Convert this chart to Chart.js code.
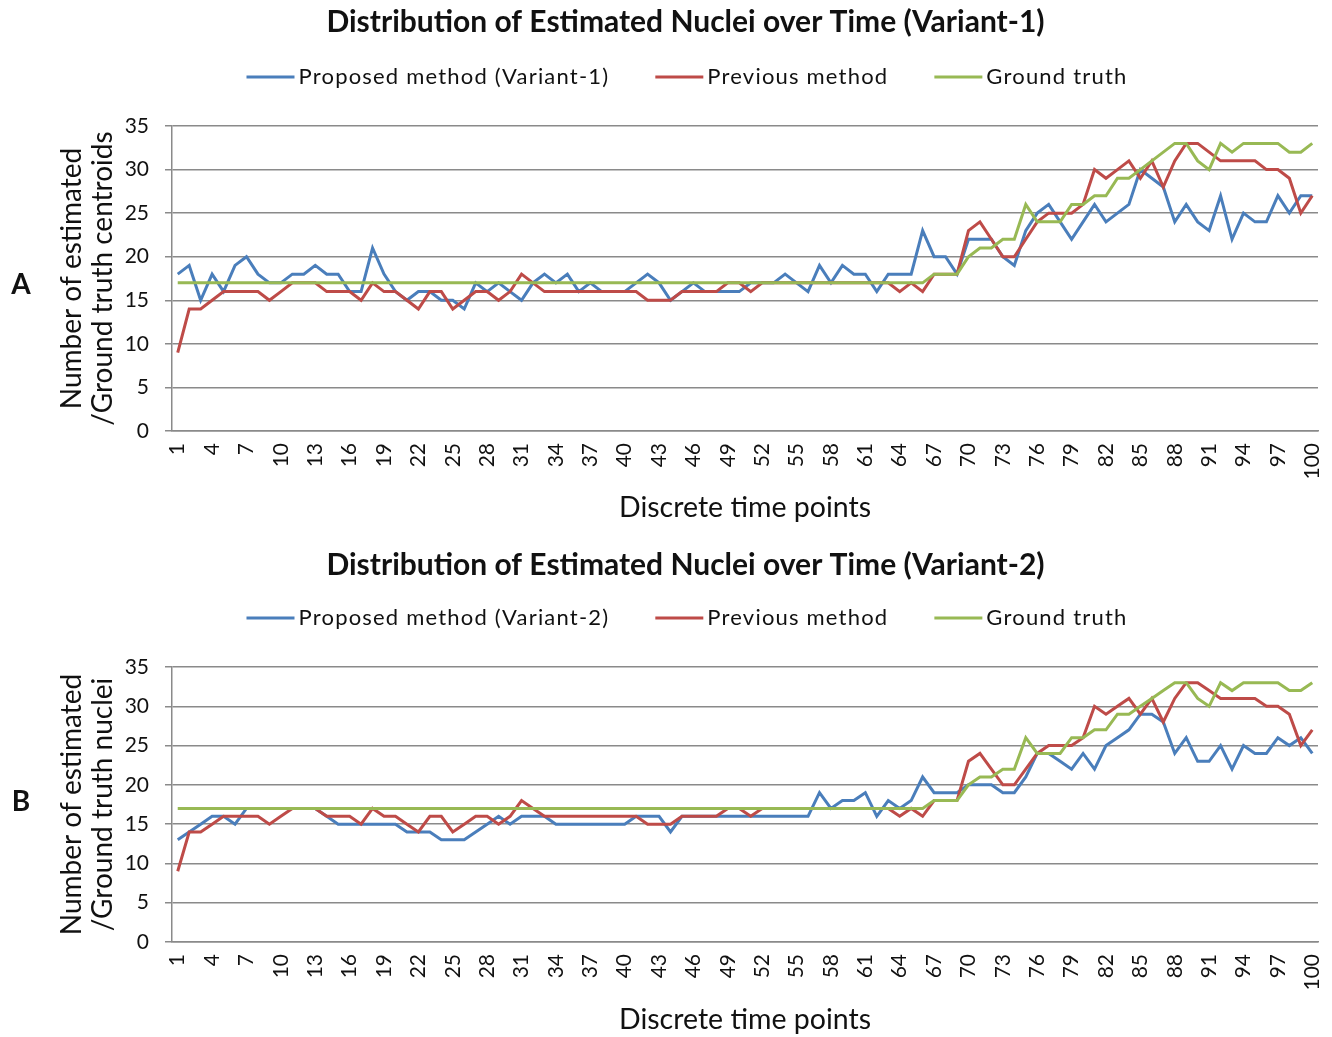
<!DOCTYPE html>
<html><head><meta charset="utf-8">
<script src="https://cdn.jsdelivr.net/npm/chart.js@4"></script>
<style>
html,body{margin:0;padding:0;background:#fff;}
#wrap{position:relative;width:1332px;height:1037px;background:#fff;}
canvas{position:absolute;left:0;display:block;}
</style></head><body>
<div id="wrap">
<canvas id="chartA" width="1332" height="530" style="top:0"></canvas>
<canvas id="chartB" width="1332" height="507" style="top:530px"></canvas>
</div>
<script>
// ---------- data ----------
const categories = [1,2,3,4,5,6,7,8,9,10,11,12,13,14,15,16,17,18,19,20,21,22,23,24,25,26,27,28,29,30,31,32,33,34,35,36,37,38,39,40,41,42,43,44,45,46,47,48,49,50,51,52,53,54,55,56,57,58,59,60,61,62,63,64,65,66,67,68,69,70,71,72,73,74,75,76,77,78,79,80,81,82,83,84,85,86,87,88,89,90,91,92,93,94,95,96,97,98,99,100];
const shownTicks = [1,4,7,10,13,16,19,22,25,28,31,34,37,40,43,46,49,52,55,58,61,64,67,70,73,76,79,82,85,88,91,94,97,100];
const yTicks = [0,5,10,15,20,25,30,35];

const proposedV1 = [18,19,15,18,16,19,20,18,17,17,18,18,19,18,18,16,16,21,18,16,
                    15,16,16,15,15,14,17,16,17,16,15,17,18,17,18,16,17,16,16,16,
                    17,18,17,15,16,17,16,16,16,16,17,17,17,18,17,16,19,17,19,18,
                    18,16,18,18,18,23,20,20,18,22,22,22,20,19,23,25,26,24,22,24,
                    26,24,25,26,30,29,28,24,26,24,23,27,22,25,24,24,27,25,27,27];
const proposedV2 = [13,14,15,16,16,15,17,17,17,17,17,17,17,16,15,15,15,15,15,15,
                    14,14,14,13,13,13,14,15,16,15,16,16,16,15,15,15,15,15,15,15,
                    16,16,16,14,16,16,16,16,16,16,16,16,16,16,16,16,19,17,18,18,
                    19,16,18,17,18,21,19,19,19,20,20,20,19,19,21,24,24,23,22,24,
                    22,25,26,27,29,29,28,24,26,23,23,25,22,25,24,24,26,25,26,24];
const previousMethod = [9,14,14,15,16,16,16,16,15,16,17,17,17,16,16,16,15,17,16,16,
                        15,14,16,16,14,15,16,16,15,16,18,17,16,16,16,16,16,16,16,16,
                        16,15,15,15,16,16,16,16,17,17,16,17,17,17,17,17,17,17,17,17,
                        17,17,17,16,17,16,18,18,18,23,24,22,20,20,22,24,25,25,25,26,
                        30,29,30,31,29,31,28,31,33,33,32,31,31,31,31,30,30,29,25,27];
const groundTruth = [17,17,17,17,17,17,17,17,17,17,17,17,17,17,17,17,17,17,17,17,
                     17,17,17,17,17,17,17,17,17,17,17,17,17,17,17,17,17,17,17,17,
                     17,17,17,17,17,17,17,17,17,17,17,17,17,17,17,17,17,17,17,17,
                     17,17,17,17,17,17,18,18,18,20,21,21,22,22,26,24,24,24,26,26,
                     27,27,29,29,30,31,32,33,33,31,30,33,32,33,33,33,33,32,32,33];

const COLORS = {blue:'#4A7EBB', red:'#BE4B48', green:'#98B954', grid:'#8a8a8a', text:'#111'};
Chart.defaults.font.family = 'Lato, "Open Sans", sans-serif';
Chart.defaults.color = COLORS.text;

const customLegend = {
  id: 'customLegend',
  afterDraw(chart, args, opts) {
    const ctx = chart.ctx;
    ctx.save();
    ctx.font = '22px Lato';
    ctx.letterSpacing = '1.2px';
    const sample = 48, gap = 4, itemGap = 46;
    const items = chart.data.datasets.map(ds => ({text: ds.label, color: ds.borderColor, w: ctx.measureText(ds.label).width}));
    const total = items.reduce((s, it) => s + sample + gap + it.w, 0) + itemGap * (items.length - 1);
    let x = opts.centerX - total / 2;
    const y = opts.y;
    items.forEach(it => {
      ctx.strokeStyle = it.color; ctx.lineWidth = 3;
      ctx.beginPath(); ctx.moveTo(x, y); ctx.lineTo(x + sample, y); ctx.stroke();
      x += sample + gap;
      ctx.fillStyle = COLORS.text; ctx.textBaseline = 'middle'; ctx.textAlign = 'left';
      ctx.fillText(it.text, x, y);
      x += it.w + itemGap;
    });
    ctx.letterSpacing = '0px';
    ctx.font = 'bold 28px Lato';
    ctx.textAlign = 'center';
    ctx.fillText(opts.letter, opts.letterX, opts.letterY);
    ctx.restore();
  }
};

function makeChart(id, cfg) {
  return new Chart(document.getElementById(id), {
    type: 'line',
    data: {
      labels: categories,
      datasets: [
        {label: cfg.blueLabel, data: cfg.blue, borderColor: COLORS.blue, backgroundColor: COLORS.blue, order: 3},
        {label: 'Previous method', data: previousMethod, borderColor: COLORS.red, backgroundColor: COLORS.red, order: 2},
        {label: 'Ground truth', data: groundTruth, borderColor: COLORS.green, backgroundColor: COLORS.green, order: 1}
      ]
    },
    options: {
      responsive: false,
      animation: false,
      devicePixelRatio: 1,
      layout: {padding: {left: 53, right: 14, top: 0, bottom: 0}},
      elements: {line: {borderWidth: 3, tension: 0}, point: {radius: 0, hoverRadius: 0}},
      plugins: {
        legend: {display: false},
        tooltip: {enabled: false},
        title: {display: true, text: cfg.title, font: {size: 30, weight: 'bold', lineHeight: 1.2}, color: COLORS.text,
                padding: {top: cfg.titleTop, bottom: cfg.titleBottom}},
        customLegend: {centerX: 687, y: cfg.legendY, letter: cfg.letter, letterX: 21, letterY: cfg.letterY}
      },
      scales: {
        x: {
          offset: true,
          grid: {display: false, drawTicks: false},
          border: {display: true, color: COLORS.grid, width: 1.5},
          ticks: {autoSkip: false, maxRotation: 90, minRotation: 90, padding: 12, font: {size: 21}, color: COLORS.text,
                  callback: function(v, i) { const lab = categories[i]; return shownTicks.includes(lab) ? String(lab) : ''; }},
          title: {display: true, text: 'Discrete time points', font: {size: 28.5, lineHeight: 1.2}, color: COLORS.text, padding: {top: 10, bottom: cfg.xTitleBottom}},
          afterFit: s => { s.height = cfg.xHeight; s.paddingRight = 0; s.paddingLeft = 0; }
        },
        y: {
          min: 0, max: 35,
          afterBuildTicks: s => { s.ticks = yTicks.map(v => ({value: v})); },
          grid: {color: COLORS.grid, lineWidth: 1.5, drawTicks: true, tickLength: 7},
          border: {display: true, color: COLORS.grid, width: 1.5},
          ticks: {padding: 16, font: {size: 21}, color: COLORS.text},
          title: {display: true, text: cfg.yTitle, font: {size: 28, lineHeight: 1.1}, color: COLORS.text, padding: {top: 4, bottom: 0}},
          afterFit: s => { s.width = 119; }
        }
      }
    },
    plugins: [customLegend]
  });
}

makeChart('chartA', {
  title: 'Distribution of Estimated Nuclei over Time (Variant-1)',
  blueLabel: 'Proposed method (Variant-1)', blue: proposedV1,
  yTitle: ['Number of estimated', '/Ground truth centroids'],
  titleTop: 4, titleBottom: 86, legendY: 77, letter: 'A', letterY: 285,
  xHeight: 99, xTitleBottom: 4.9
});
makeChart('chartB', {
  title: 'Distribution of Estimated Nuclei over Time (Variant-2)',
  blueLabel: 'Proposed method (Variant-2)', blue: proposedV2,
  yTitle: ['Number of estimated', '/Ground truth nuclei'],
  titleTop: 17, titleBottom: 84, legendY: 88, letter: 'B', letterY: 272,
  xHeight: 95, xTitleBottom: 0
});
</script>
</body></html>
